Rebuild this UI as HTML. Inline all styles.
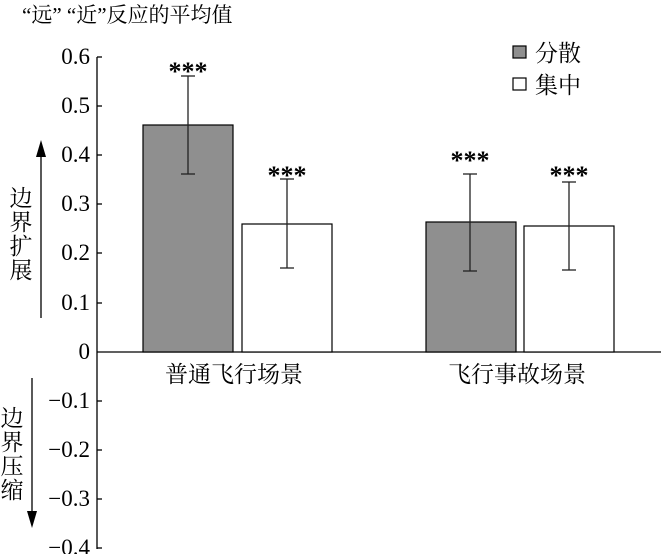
<!DOCTYPE html>
<html><head><meta charset="utf-8"><style>
body{margin:0;background:#fff}
.s{font-family:"Liberation Serif","DejaVu Serif",serif}
.c{font-family:"Liberation Serif","Noto Serif CJK SC","DejaVu Serif",serif}
</style></head><body>
<svg width="661" height="554" viewBox="0 0 661 554" xmlns="http://www.w3.org/2000/svg">
<text class="c" x="22" y="22" font-size="21">“远” “近”反应的平均值</text>
<line x1="97" y1="57" x2="97" y2="549" stroke="#000" stroke-width="1.3"/>
<line x1="97" y1="352" x2="661" y2="352" stroke="#000" stroke-width="1.3"/>
<g stroke="#000" stroke-width="1.3">
<line x1="97" y1="57" x2="102" y2="57"/><line x1="97" y1="106" x2="102" y2="106"/>
<line x1="97" y1="155" x2="102" y2="155"/><line x1="97" y1="204" x2="102" y2="204"/>
<line x1="97" y1="253" x2="102" y2="253"/><line x1="97" y1="303" x2="102" y2="303"/>
<line x1="97" y1="401" x2="102" y2="401"/><line x1="97" y1="450" x2="102" y2="450"/>
<line x1="97" y1="499" x2="102" y2="499"/><line x1="97" y1="548" x2="102" y2="548"/>
</g>
<g class="s" font-size="23" text-anchor="end">
<text x="90" y="64">0.6</text><text x="90" y="113">0.5</text><text x="90" y="162">0.4</text>
<text x="90" y="211">0.3</text><text x="90" y="260">0.2</text><text x="90" y="310">0.1</text>
<text x="90" y="359">0</text><text x="90" y="408">−0.1</text><text x="90" y="457">−0.2</text>
<text x="90" y="506">−0.3</text><text x="90" y="555">−0.4</text>
</g>
<rect x="143" y="125" width="90" height="227" fill="#8f8f8f" stroke="#000" stroke-width="1.2"/>
<rect x="242" y="224" width="90" height="128" fill="#fff" stroke="#000" stroke-width="1.2"/>
<rect x="426" y="222" width="90" height="130" fill="#8f8f8f" stroke="#000" stroke-width="1.2"/>
<rect x="524" y="226" width="90" height="126" fill="#fff" stroke="#000" stroke-width="1.2"/>
<g stroke="#222" stroke-width="1.3">
<line x1="188" y1="76" x2="188" y2="174"/><line x1="181" y1="76" x2="195" y2="76"/><line x1="181" y1="174" x2="195" y2="174"/>
<line x1="287" y1="179" x2="287" y2="268"/><line x1="280" y1="179" x2="294" y2="179"/><line x1="280" y1="268" x2="294" y2="268"/>
<line x1="470" y1="174" x2="470" y2="271"/><line x1="463" y1="174" x2="477" y2="174"/><line x1="463" y1="271" x2="477" y2="271"/>
<line x1="569" y1="182" x2="569" y2="270"/><line x1="562" y1="182" x2="576" y2="182"/><line x1="562" y1="270" x2="576" y2="270"/>
</g>
<g class="s" font-size="26" text-anchor="middle" font-weight="bold">
<text x="188" y="80">***</text><text x="287" y="184">***</text>
<text x="470" y="169">***</text><text x="569" y="184">***</text>
</g>
<g class="c" font-size="23" text-anchor="middle">
<text x="234" y="382">普通飞行场景</text><text x="517" y="382">飞行事故场景</text>
</g>
<rect x="513" y="46" width="13" height="12" fill="#8f8f8f" stroke="#000" stroke-width="1.2"/>
<rect x="513" y="78" width="13" height="12" fill="#fff" stroke="#000" stroke-width="1.2"/>
<g class="c" font-size="23">
<text x="535" y="61">分散</text>
<text x="535" y="93">集中</text>
</g>
<line x1="41" y1="318" x2="41" y2="152" stroke="#000" stroke-width="1.3"/>
<polygon points="41,140 36,157 46,157" fill="#000"/>
<line x1="32" y1="378" x2="32" y2="515" stroke="#000" stroke-width="1.3"/>
<polygon points="32,528 27,511 37,511" fill="#000"/>
<g class="c" font-size="23" text-anchor="middle">
<text x="21" y="206">边</text><text x="21" y="230">界</text><text x="21" y="254">扩</text><text x="21" y="278">展</text>
<text x="12" y="426">边</text><text x="12" y="450">界</text><text x="12" y="474">压</text><text x="12" y="498">缩</text>
</g>
</svg>
</body></html>
